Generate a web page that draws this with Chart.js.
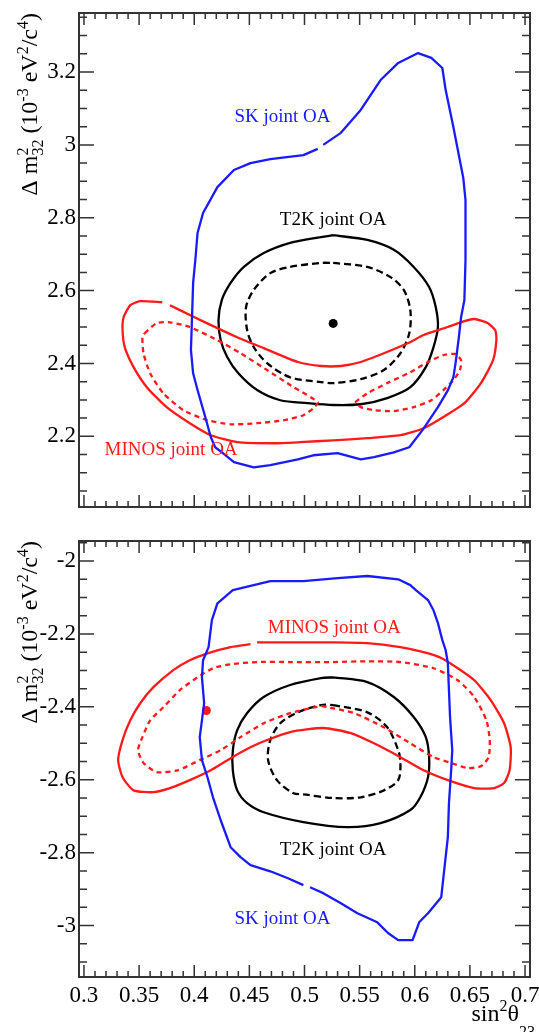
<!DOCTYPE html>
<html>
<head>
<meta charset="utf-8">
<script src="https://cdn.jsdelivr.net/npm/chart.js@4.4.1/dist/chart.umd.min.js"></script>
<style>
  body { margin: 0; background: #fff; }
  .panel { position: absolute; left: 0; width: 539px; }
  #topPanel { top: 0; height: 520px; }
  #bottomPanel { top: 520px; height: 512px; }
</style>
</head>
<body>
<div class="panel" id="topPanel"><canvas id="topChart"></canvas></div>
<div class="panel" id="bottomPanel"><canvas id="bottomChart"></canvas></div>
<script>
// Axis ranges
const xRange = [0.2955, 0.7045];
const topYRange = [2.006, 3.362];
const bottomYRange = [-3.141, -1.945];

// Top panel (normal hierarchy) contours, [sin^2 theta23, dm^2_32]
const skTop = [[0.517,3.000],[0.533,3.033],[0.551,3.096],[0.569,3.178],[0.585,3.225],[0.603,3.252],[0.615,3.239],[0.625,3.211],[0.628,3.151],[0.635,3.049],[0.644,2.909],[0.646,2.849],[0.646,2.684],[0.645,2.574],[0.642,2.527],[0.640,2.472],[0.637,2.401],[0.635,2.362],[0.630,2.326],[0.621,2.280],[0.607,2.217],[0.595,2.170],[0.581,2.156],[0.563,2.143],[0.551,2.137],[0.530,2.154],[0.508,2.148],[0.494,2.137],[0.469,2.121],[0.454,2.115],[0.436,2.129],[0.426,2.154],[0.419,2.170],[0.415,2.198],[0.410,2.253],[0.403,2.327],[0.399,2.373],[0.397,2.437],[0.398,2.527],[0.399,2.621],[0.401,2.684],[0.403,2.758],[0.408,2.813],[0.421,2.884],[0.436,2.931],[0.451,2.950],[0.469,2.961],[0.499,2.972],[0.512,2.989]];
const t2k90Top = [[0.526,2.752],[0.557,2.739],[0.581,2.712],[0.599,2.665],[0.613,2.610],[0.619,2.555],[0.621,2.500],[0.617,2.445],[0.610,2.390],[0.596,2.335],[0.575,2.305],[0.551,2.288],[0.526,2.286],[0.503,2.291],[0.478,2.299],[0.457,2.327],[0.440,2.373],[0.430,2.417],[0.424,2.464],[0.422,2.519],[0.425,2.574],[0.433,2.621],[0.445,2.665],[0.463,2.703],[0.487,2.731],[0.515,2.747]];
const t2k68Top = [[0.526,2.676],[0.557,2.665],[0.578,2.637],[0.590,2.602],[0.596,2.546],[0.595,2.483],[0.587,2.428],[0.572,2.382],[0.551,2.357],[0.526,2.346],[0.515,2.349],[0.487,2.362],[0.466,2.401],[0.454,2.445],[0.448,2.491],[0.447,2.555],[0.454,2.602],[0.469,2.648],[0.487,2.665],[0.515,2.676]];
const minos90Top = [[0.378,2.560],[0.396,2.533],[0.421,2.497],[0.439,2.472],[0.463,2.442],[0.494,2.404],[0.515,2.393],[0.533,2.393],[0.551,2.404],[0.572,2.428],[0.594,2.456],[0.608,2.478],[0.630,2.500],[0.645,2.516],[0.654,2.522],[0.666,2.511],[0.673,2.491],[0.674,2.464],[0.671,2.409],[0.660,2.346],[0.645,2.291],[0.626,2.253],[0.608,2.222],[0.587,2.203],[0.557,2.195],[0.526,2.189],[0.496,2.184],[0.472,2.181],[0.439,2.184],[0.415,2.203],[0.396,2.236],[0.375,2.280],[0.357,2.335],[0.345,2.390],[0.337,2.445],[0.335,2.491],[0.336,2.527],[0.342,2.560],[0.351,2.571],[0.371,2.568]];
const minos68TopLeft = [[0.355,2.483],[0.366,2.511],[0.378,2.513],[0.396,2.500],[0.421,2.464],[0.442,2.428],[0.466,2.382],[0.490,2.335],[0.512,2.294],[0.508,2.277],[0.499,2.258],[0.481,2.244],[0.457,2.236],[0.433,2.233],[0.412,2.244],[0.390,2.272],[0.372,2.318],[0.360,2.373],[0.354,2.428],[0.353,2.472]];
const minos68TopRight = [[0.546,2.294],[0.557,2.318],[0.575,2.346],[0.596,2.376],[0.612,2.404],[0.626,2.423],[0.637,2.426],[0.642,2.409],[0.641,2.382],[0.635,2.354],[0.626,2.327],[0.615,2.299],[0.599,2.280],[0.581,2.269],[0.563,2.272],[0.551,2.280]];
const bestFitTop = [[0.526,2.51]];

// Bottom panel (inverted hierarchy) contours
const skBottom = [[0.505,-2.895],[0.517,-2.911],[0.533,-2.939],[0.548,-2.966],[0.566,-2.991],[0.576,-3.021],[0.585,-3.040],[0.598,-3.040],[0.604,-2.991],[0.612,-2.966],[0.624,-2.922],[0.626,-2.867],[0.630,-2.757],[0.631,-2.664],[0.633,-2.574],[0.634,-2.519],[0.632,-2.428],[0.631,-2.354],[0.630,-2.280],[0.628,-2.244],[0.625,-2.217],[0.621,-2.170],[0.617,-2.135],[0.612,-2.107],[0.601,-2.080],[0.596,-2.066],[0.585,-2.050],[0.557,-2.041],[0.530,-2.047],[0.499,-2.055],[0.469,-2.055],[0.435,-2.080],[0.421,-2.116],[0.416,-2.162],[0.413,-2.236],[0.408,-2.272],[0.407,-2.319],[0.409,-2.390],[0.407,-2.437],[0.405,-2.483],[0.407,-2.546],[0.412,-2.593],[0.417,-2.648],[0.424,-2.711],[0.433,-2.785],[0.442,-2.812],[0.451,-2.834],[0.469,-2.851],[0.485,-2.870],[0.499,-2.889]];
const t2k90Bottom = [[0.526,-2.319],[0.557,-2.332],[0.581,-2.373],[0.599,-2.428],[0.610,-2.483],[0.613,-2.538],[0.612,-2.593],[0.605,-2.648],[0.596,-2.683],[0.569,-2.719],[0.539,-2.730],[0.499,-2.716],[0.463,-2.689],[0.448,-2.664],[0.439,-2.629],[0.435,-2.574],[0.435,-2.519],[0.439,-2.464],[0.448,-2.417],[0.463,-2.373],[0.487,-2.340],[0.515,-2.321]];
const t2k68Bottom = [[0.526,-2.395],[0.557,-2.415],[0.575,-2.456],[0.585,-2.519],[0.587,-2.554],[0.585,-2.601],[0.572,-2.629],[0.551,-2.648],[0.526,-2.650],[0.499,-2.640],[0.490,-2.637],[0.475,-2.601],[0.467,-2.546],[0.469,-2.491],[0.478,-2.445],[0.494,-2.415],[0.515,-2.395]];
const minos90Bottom = [[0.457,-2.223],[0.496,-2.223],[0.526,-2.223],[0.557,-2.225],[0.587,-2.236],[0.608,-2.250],[0.624,-2.266],[0.639,-2.294],[0.654,-2.327],[0.669,-2.382],[0.681,-2.445],[0.687,-2.511],[0.686,-2.574],[0.681,-2.609],[0.672,-2.623],[0.654,-2.623],[0.630,-2.601],[0.608,-2.574],[0.587,-2.538],[0.563,-2.500],[0.542,-2.472],[0.517,-2.458],[0.487,-2.469],[0.466,-2.491],[0.451,-2.511],[0.433,-2.541],[0.415,-2.574],[0.396,-2.601],[0.378,-2.623],[0.363,-2.634],[0.345,-2.629],[0.335,-2.593],[0.331,-2.546],[0.335,-2.491],[0.342,-2.437],[0.351,-2.390],[0.363,-2.346],[0.381,-2.299],[0.396,-2.272],[0.412,-2.253],[0.433,-2.236],[0.451,-2.228]];
const minos68Bottom = [[0.526,-2.277],[0.557,-2.275],[0.587,-2.277],[0.617,-2.294],[0.639,-2.327],[0.654,-2.373],[0.665,-2.437],[0.668,-2.491],[0.667,-2.538],[0.660,-2.563],[0.648,-2.568],[0.633,-2.554],[0.617,-2.538],[0.596,-2.500],[0.572,-2.456],[0.545,-2.417],[0.521,-2.401],[0.515,-2.398],[0.487,-2.417],[0.463,-2.445],[0.442,-2.483],[0.424,-2.519],[0.405,-2.546],[0.385,-2.574],[0.366,-2.579],[0.354,-2.554],[0.349,-2.519],[0.353,-2.483],[0.360,-2.437],[0.372,-2.401],[0.387,-2.354],[0.403,-2.319],[0.417,-2.294],[0.433,-2.283],[0.457,-2.277],[0.487,-2.277]];
const bestFitBottom = [[0.411,-2.41]];

const BLUE = '#1a1aff', RED = '#ff1a1a', BLACK = '#000';
const FONT = '"Liberation Serif", "Times New Roman", serif';

function toPoints(arr, close) {
  const pts = arr.map(p => ({x: p[0], y: p[1]}));
  if (close) pts.push({x: arr[0][0], y: arr[0][1]});
  return pts;
}

function contour(arr, color, close, dash, tension) {
  return {
    data: toPoints(arr, close), showLine: true, borderColor: color, borderWidth: 2.3,
    borderDash: dash || [], pointRadius: 0, tension: tension || 0, fill: false,
    borderJoinStyle: 'round', borderCapStyle: 'butt'
  };
}

function marker(arr, color) {
  return { data: toPoints(arr, false), showLine: false, pointRadius: 4.5, pointBackgroundColor: color, pointBorderWidth: 0 };
}

// draws a run of text pieces [text, size, dy, noAdvance], ending at (x, y)
function drawRich(ctx, parts, x, y, rotate) {
  ctx.save();
  ctx.translate(x, y);
  if (rotate) ctx.rotate(-Math.PI / 2);
  let total = 0;
  for (const p of parts) {
    ctx.font = p[1] + 'px ' + FONT;
    if (!p[3]) total += ctx.measureText(p[0]).width;
  }
  let cx = -total;
  ctx.fillStyle = '#000';
  ctx.textBaseline = 'alphabetic';
  ctx.textAlign = 'left';
  for (const p of parts) {
    ctx.font = p[1] + 'px ' + FONT;
    ctx.fillText(p[0], cx, p[2]);
    if (!p[3]) cx += ctx.measureText(p[0]).width;
  }
  ctx.restore();
}

const yTitleParts = [['\u0394 m', 24, 0], ['2', 16, -9, true], ['32', 16, 6], [' (10', 24, 0], ['-3', 16, -9], [' eV', 24, 0], ['2', 16, -9], ['/c', 24, 0], ['4', 16, -9], [')', 24, 0]];
const xTitleParts = [['sin', 24, 0], ['2', 16, -10], ['\u03b8', 24, 0], ['23', 16, 16]];

const framePlugin = {
  id: 'frame',
  afterDatasetsDraw(chart, args, opts) {
    const {ctx, chartArea: a, scales: {x, y}} = chart;
    ctx.save();
    // labels on the contours
    ctx.textAlign = 'center';
    ctx.textBaseline = 'middle';
    ctx.font = '19px ' + FONT;
    for (const l of opts.labels) {
      ctx.fillStyle = l.color;
      ctx.fillText(l.text, x.getPixelForValue(l.x), y.getPixelForValue(l.y));
    }
    // inward ticks on all four sides
    ctx.strokeStyle = '#333';
    ctx.lineWidth = 1.5;
    ctx.beginPath();
    for (let i = 30; i <= 70; i++) {
      const px = x.getPixelForValue(i / 100);
      const len = i % 5 === 0 ? 12 : 6;
      ctx.moveTo(px, a.bottom); ctx.lineTo(px, a.bottom - len);
      ctx.moveTo(px, a.top); ctx.lineTo(px, a.top + len);
    }
    for (let i = Math.ceil(y.min * 20); i <= Math.floor(y.max * 20); i++) {
      const py = y.getPixelForValue(i / 20);
      const len = i % 4 === 0 ? 15 : 8;
      ctx.moveTo(a.left, py); ctx.lineTo(a.left + len, py);
      ctx.moveTo(a.right, py); ctx.lineTo(a.right - len, py);
    }
    ctx.stroke();
    ctx.lineWidth = 2;
    ctx.strokeRect(a.left, a.top, a.right - a.left, a.bottom - a.top);
    // axis titles
    drawRich(ctx, yTitleParts, 37, a.top, true);
    if (opts.xTitle) drawRich(ctx, xTitleParts, 535, a.bottom + 44, false);
    ctx.restore();
  }
};

const tickLabel = v => String(Math.round(v * 100) / 100);

function makeChart(id, yRange, datasets, labels, showX, padTop, xHeight) {
  return new Chart(document.getElementById(id), {
    type: 'scatter',
    data: { datasets },
    options: {
      responsive: true, maintainAspectRatio: false, animation: false,
      layout: { padding: { top: padTop, right: 9, left: 0, bottom: 0 } },
      plugins: { legend: { display: false }, tooltip: { enabled: false },
        frame: { labels, xTitle: showX } },
      scales: {
        x: {
          type: 'linear', min: xRange[0], max: xRange[1],
          grid: { display: false, drawTicks: false }, border: { display: false },
          ticks: { display: showX, stepSize: 0.05, includeBounds: false, padding: 5,
            callback: tickLabel, color: '#000', font: { family: FONT, size: 23 } },
          afterFit: s => { s.height = xHeight; s.paddingLeft = 0; s.paddingRight = 0; }
        },
        y: {
          type: 'linear', min: yRange[0], max: yRange[1],
          grid: { display: false, drawTicks: false }, border: { display: false },
          ticks: { stepSize: 0.2, includeBounds: false, padding: 3,
            callback: tickLabel, color: '#000', font: { family: FONT, size: 23 } },
          afterFit: s => { s.width = 79; s.paddingTop = 0; s.paddingBottom = 0; }
        }
      }
    },
    plugins: [framePlugin]
  });
}

makeChart('topChart', topYRange, [
  contour(skTop, BLUE, false),
  contour(minos90Top, RED, false, null, 0.2),
  contour(minos68TopLeft, RED, true, [5, 4], 0.2),
  contour(minos68TopRight, RED, true, [5, 4], 0.2),
  contour(t2k90Top, BLACK, true, null, 0.3),
  contour(t2k68Top, BLACK, true, [7, 4], 0.3),
  marker(bestFitTop, BLACK)
], [
  { text: 'SK joint OA', x: 0.480, y: 3.077, color: BLUE },
  { text: 'T2K joint OA', x: 0.526, y: 2.794, color: BLACK },
  { text: 'MINOS joint OA', x: 0.379, y: 2.162, color: RED }
], false, 13, 13);

makeChart('bottomChart', bottomYRange, [
  contour(skBottom, BLUE, false),
  contour(minos90Bottom, RED, false, null, 0.2),
  contour(minos68Bottom, RED, true, [5, 4], 0.2),
  contour(t2k90Bottom, BLACK, true, null, 0.3),
  contour(t2k68Bottom, BLACK, true, [7, 4], 0.3),
  marker(bestFitBottom, RED)
], [
  { text: 'MINOS joint OA', x: 0.527, y: -2.184, color: RED },
  { text: 'T2K joint OA', x: 0.526, y: -2.793, color: BLACK },
  { text: 'SK joint OA', x: 0.480, y: -2.983, color: BLUE }
], true, 21, 55);
</script>
</body>
</html>
